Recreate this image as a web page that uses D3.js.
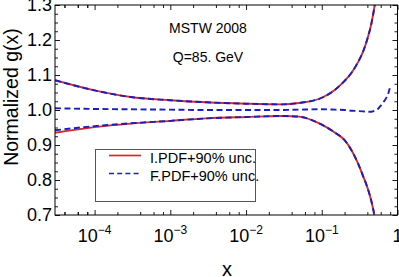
<!DOCTYPE html>
<html lang="en">
<head>
<meta charset="UTF-8">
<title>Normalized g(x)</title>
<script src="https://cdnjs.cloudflare.com/ajax/libs/d3/7.8.5/d3.min.js"></script>
<style>
    body { margin: 0; background: #fff; }
    svg { display: block; font-family: "Liberation Sans", Arial, sans-serif; }
</style>
</head>
<body>
<div id="chart"></div>
<script>
// x grid for the uncertainty bands
var xGrid = [3e-5, 1e-4, 3e-4, 1e-3, 3e-3, 0.01, 0.03, 0.05, 0.1, 0.15, 0.2, 0.25, 0.3, 0.35, 0.4, 0.45, 0.5, 0.55];

// I.PDF band (red, solid)
var iUpper = [1.085, 1.056, 1.037, 1.028, 1.022, 1.018, 1.016, 1.020, 1.035, 1.058, 1.083, 1.108, 1.136, 1.166, 1.203, 1.245, 1.300, 1.370];
var iLower = [0.935, 0.951, 0.961, 0.969, 0.976, 0.980, 0.983, 0.981, 0.958, 0.935, 0.914, 0.883, 0.848, 0.812, 0.779, 0.741, 0.694, 0.630];

// F.PDF band (blue, dashed)
var fUpper = [1.085, 1.056, 1.037, 1.028, 1.022, 1.018, 1.016, 1.020, 1.035, 1.058, 1.083, 1.108, 1.136, 1.166, 1.203, 1.245, 1.300, 1.370];
var fLower = [0.942, 0.954, 0.962, 0.969, 0.976, 0.980, 0.983, 0.981, 0.958, 0.935, 0.914, 0.883, 0.848, 0.812, 0.779, 0.741, 0.694, 0.630];

// F.PDF central / I.PDF central
var xCentral = [3e-5, 1e-4, 3e-4, 1e-3, 3e-3, 0.01, 0.03, 0.05, 0.1, 0.15, 0.2, 0.25, 0.3, 0.35, 0.4, 0.45, 0.5, 0.55, 0.6, 0.65, 0.7, 0.75, 0.79];
var fCentral = [1.005, 1.003, 1.002, 1.001, 1.000, 1.000, 1.000, 1.001, 1.002, 1.001, 1.000, 0.998, 0.997, 0.996, 0.995, 0.995, 0.998, 1.003, 1.012, 1.022, 1.032, 1.045, 1.062];

var xMajor = [1e-4, 1e-3, 1e-2, 1e-1, 1];
var xMajorExp = ['\u22124', '\u22123', '\u22122', '\u22121', ''];
var xMinorMult = [2, 4, 6, 8];
var yMajor = [0.7, 0.8, 0.9, 1.0, 1.1, 1.2, 1.3];
var legendLabels = ['I.PDF+90% unc.', 'F.PDF+90% unc.'];
var annotations = ['MSTW 2008', 'Q=85. GeV'];

var W = 399, H = 277;
var L = 55, R = 397.5, T = 5, B = 215;
var RED = '#d42a2a', BLUE = '#1c1cc4';

var svg = d3.select('#chart').append('svg')
    .attr('width', W)
    .attr('height', H);

var x = d3.scaleLog().domain([3e-5, 1]).range([L, R]);
var y = d3.scaleLinear().domain([0.7, 1.3]).range([B, T]);

// minor tick positions
var xMinor = [];
[1e-4].concat(xMajor).forEach(function (m) {
    xMinorMult.forEach(function (k) {
        var v = m / 10 * k;
        if (v >= 3e-5 && v <= 1) xMinor.push(v);
    });
});
var yMinor = d3.range(0.725, 1.3, 0.025).filter(function (v) {
    return Math.abs(v * 10 - Math.round(v * 10)) > 1e-6;
});

var clip = svg.append('defs').append('clipPath').attr('id', 'plot-clip');
clip.append('rect').attr('x', L).attr('y', T).attr('width', R - L).attr('height', B - T);

// axes with ticks pointing inward
var addAxis = function (axis, tx, ty, values, size) {
    var g = svg.append('g')
        .attr('transform', 'translate(' + tx + ',' + ty + ')')
        .call(axis.tickValues(values).tickSize(-size).tickFormat(''));
    g.select('.domain').remove();
    g.selectAll('line').attr('stroke', '#000').attr('stroke-width', 0.9);
};
addAxis(d3.axisBottom(x), 0, B, xMajor, 5);
addAxis(d3.axisBottom(x), 0, B, xMinor, 3);
addAxis(d3.axisTop(x), 0, T, xMajor, 5);
addAxis(d3.axisTop(x), 0, T, xMinor, 3);
addAxis(d3.axisLeft(y), L, 0, yMajor, 5);
addAxis(d3.axisLeft(y), L, 0, yMinor, 3);
addAxis(d3.axisRight(y), R, 0, yMajor, 5);
addAxis(d3.axisRight(y), R, 0, yMinor, 3);

// curves
var plot = svg.append('g').attr('clip-path', 'url(#plot-clip)');
var lineOf = function (xs) {
    return d3.line()
        .x(function (d, i) { return x(xs[i]); })
        .y(function (d) { return y(d); })
        .curve(d3.curveMonotoneX);
};

[iUpper, iLower].forEach(function (s) {
    plot.append('path')
        .attr('d', lineOf(xGrid)(s))
        .attr('fill', 'none')
        .attr('stroke', RED)
        .attr('stroke-width', 1.9);
});
[fUpper, fLower].forEach(function (s) {
    plot.append('path')
        .attr('d', lineOf(xGrid)(s))
        .attr('fill', 'none')
        .attr('stroke', BLUE)
        .attr('stroke-width', 1.9)
        .attr('stroke-dasharray', '6,3.5');
});
plot.append('path')
    .attr('d', lineOf(xCentral)(fCentral))
    .attr('fill', 'none')
    .attr('stroke', BLUE)
    .attr('stroke-width', 1.9)
    .attr('stroke-dasharray', '6,3.5');

// frame
svg.append('rect')
    .attr('x', L).attr('y', T)
    .attr('width', R - L).attr('height', B - T)
    .attr('fill', 'none')
    .attr('stroke', '#000')
    .attr('stroke-width', 1);

// y tick labels
svg.selectAll('.ylab').data(yMajor).enter().append('text')
    .attr('class', 'ylab')
    .attr('x', L - 3)
    .attr('y', function (d) { return y(d) + 6.3; })
    .attr('text-anchor', 'end')
    .attr('font-size', 18)
    .text(function (d) { return d.toFixed(1); });

// x tick labels: 10^n
var xl = svg.selectAll('.xlab').data(xMajor).enter().append('text')
    .attr('class', 'xlab')
    .attr('x', function (d) { return x(d); })
    .attr('y', 241.5)
    .attr('text-anchor', 'middle')
    .attr('font-size', 18);
xl.each(function (d, i) {
    var t = d3.select(this);
    if (xMajorExp[i] === '') {
        t.text('1');
        return;
    }
    t.append('tspan').text('10');
    t.append('tspan').attr('font-size', 12).attr('dy', -8).text(xMajorExp[i]);
});

// axis titles
svg.append('text')
    .attr('transform', 'translate(17.5,97) rotate(-90)')
    .attr('text-anchor', 'middle')
    .attr('font-size', 19.5)
    .text('Normalized g(x)');
svg.append('text')
    .attr('x', 227)
    .attr('y', 276)
    .attr('text-anchor', 'middle')
    .attr('font-size', 20)
    .text('x');

// annotations
svg.selectAll('.ann').data(annotations).enter().append('text')
    .attr('class', 'ann')
    .attr('x', 208)
    .attr('y', function (d, i) { return 33 + i * 29; })
    .attr('text-anchor', 'middle')
    .attr('font-size', 14)
    .text(function (d) { return d; });

// legend
var legend = svg.append('g');
legend.append('rect')
    .attr('x', 95.5).attr('y', 149.5)
    .attr('width', 160).attr('height', 52)
    .attr('fill', '#fff')
    .attr('stroke', '#555')
    .attr('stroke-width', 1);
legendLabels.forEach(function (lab, i) {
    var ly = 155.5 + i * 18;
    legend.append('line')
        .attr('x1', 109).attr('x2', 141)
        .attr('y1', ly).attr('y2', ly)
        .attr('stroke', i === 0 ? RED : BLUE)
        .attr('stroke-width', 1.7)
        .attr('stroke-dasharray', i === 0 ? null : '5,3.2');
    legend.append('text')
        .attr('x', 150)
        .attr('y', ly + 7.5)
        .attr('font-size', 14.5)
        .text(lab);
});
</script>
</body>
</html>
